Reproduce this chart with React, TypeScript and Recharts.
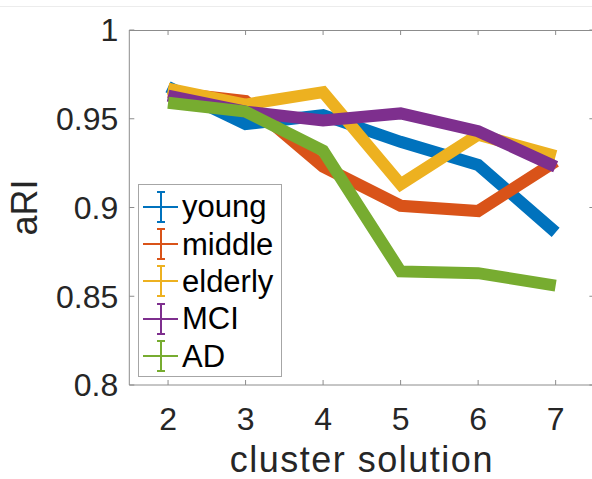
import { Legend, Line, LineChart, XAxis, YAxis } from "recharts";

const clusters = [2, 3, 4, 5, 6, 7];
const young = [0.968, 0.947, 0.952, 0.937, 0.924, 0.886];
const middle = [0.965, 0.96, 0.923, 0.901, 0.898, 0.926];
const elderly = [0.967, 0.958, 0.965, 0.913, 0.941, 0.929];
const mci = [0.963, 0.954, 0.949, 0.953, 0.943, 0.923];
const ad = [0.959, 0.954, 0.932, 0.864, 0.863, 0.856];

const groups = ["young", "middle", "elderly", "MCI", "AD"];
const groupKeys = ["young", "middle", "elderly", "mci", "ad"];
const colors = ["#0072BD", "#D95319", "#EDB120", "#7E2F8E", "#77AC30"];

const xTicks = [2, 3, 4, 5, 6, 7];
const yTicks = [0.8, 0.85, 0.9, 0.95, 1];
const xDomain = [1.5, 7.5];
const yDomain = [0.8, 1];

const data = clusters.map((k, i) => ({
  k,
  young: young[i],
  middle: middle[i],
  elderly: elderly[i],
  mci: mci[i],
  ad: ad[i],
}));

const font = "'Liberation Sans', Arial, Helvetica, sans-serif";
const axisGray = "#8c8c8c";
const textDark = "#262626";

// plot box geometry (shared by the chart margins and the box overlay)
const chartW = 600;
const chartH = 479;
const plotLeft = 129.3;
const plotTop = 30;
const plotRight = 594.4;
const xAxisH = 94;
const plotBottom = chartH - xAxisH;

const sx = (v: number) => plotLeft + ((v - xDomain[0]) / (xDomain[1] - xDomain[0])) * (plotRight - plotLeft);
const sy = (v: number) => plotBottom - ((v - yDomain[0]) / (yDomain[1] - yDomain[0])) * (plotBottom - plotTop);

function BoxOverlay() {
  // matlab "box on": top and right edges with inward ticks
  return (
    <svg
      width={chartW}
      height={chartH}
      style={{ position: "absolute", left: 0, top: 0, pointerEvents: "none" }}
    >
      <line x1={plotLeft} x2={plotRight} y1={plotTop + 0.5} y2={plotTop + 0.5} stroke={axisGray} />
      <line x1={plotRight - 0.5} x2={plotRight - 0.5} y1={plotTop} y2={plotBottom} stroke={axisGray} />
      {xTicks.map((t) => (
        <line key={"tx" + t} x1={sx(t)} x2={sx(t)} y1={plotTop} y2={plotTop + 5} stroke={axisGray} />
      ))}
      {yTicks.map((t) => (
        <line key={"ty" + t} x1={plotRight - 5} x2={plotRight} y1={sy(t)} y2={sy(t)} stroke={axisGray} />
      ))}
    </svg>
  );
}

function LegendBox() {
  return (
    <div
      style={{
        border: "1px solid #a6a6a6",
        background: "#fff",
        width: 144,
        height: 193,
        boxSizing: "border-box",
        padding: "3px 0 0 4px",
        fontFamily: font,
      }}
    >
      {groups.map((g, i) => (
        <div key={g} style={{ display: "flex", alignItems: "center", height: 37.4 }}>
          <svg width={39} height={32} style={{ flex: "none" }}>
            <line x1={0} x2={35} y1={16} y2={16} stroke={colors[i]} strokeWidth={2} />
            <line x1={18} x2={18} y1={1} y2={31} stroke={colors[i]} strokeWidth={2} />
            <line x1={14} x2={22} y1={1} y2={1} stroke={colors[i]} strokeWidth={2} />
            <line x1={14} x2={22} y1={31} y2={31} stroke={colors[i]} strokeWidth={2} />
          </svg>
          <span style={{ fontSize: 31, lineHeight: 1, color: "#000" }}>{g}</span>
        </div>
      ))}
    </div>
  );
}

export default function App() {
  return (
    <div
      style={{
        position: "absolute",
        left: 0,
        top: 0,
        width: 592,
        height: 479,
        overflow: "hidden",
        background: "#fff",
      }}
    >
      <div style={{ position: "absolute", left: 0, top: 6, width: 592, height: 1, background: "#ececec" }} />
      <LineChart
        width={chartW}
        height={chartH}
        data={data}
        margin={{ top: plotTop, right: chartW - plotRight, bottom: 0, left: 0 }}
        style={{ fontFamily: font }}
      >
        <XAxis
          dataKey="k"
          type="number"
          domain={xDomain}
          ticks={xTicks}
          height={xAxisH}
          stroke={axisGray}
          tickSize={-5}
          tickMargin={27}
          tick={{ fill: textDark, fontSize: 32 }}
          label={{
            value: "cluster solution",
            position: "insideBottom",
            offset: 7,
            fill: textDark,
            fontSize: 36,
            style: { letterSpacing: 1.5 },
          }}
        />
        <YAxis
          type="number"
          domain={yDomain}
          ticks={yTicks}
          width={plotLeft}
          stroke={axisGray}
          tickSize={-5}
          tickMargin={16}
          tickFormatter={(v) => String(v)}
          tick={{ fill: textDark, fontSize: 32 }}
          label={{
            value: "aRI",
            angle: -90,
            position: "insideLeft",
            offset: 24,
            fill: textDark,
            fontSize: 36,
            style: { textAnchor: "middle" },
          }}
        />
        <Legend
          layout="vertical"
          align="center"
          verticalAlign="middle"
          content={() => <LegendBox />}
          wrapperStyle={{ left: 138, top: 184, width: 144, height: 193 }}
        />
        {groupKeys.map((key, i) => (
          <Line
            key={key}
            dataKey={key}
            name={groups[i]}
            stroke={colors[i]}
            strokeWidth={12}
            dot={false}
            activeDot={false}
            isAnimationActive={false}
          />
        ))}
      </LineChart>
      <BoxOverlay />
    </div>
  );
}
